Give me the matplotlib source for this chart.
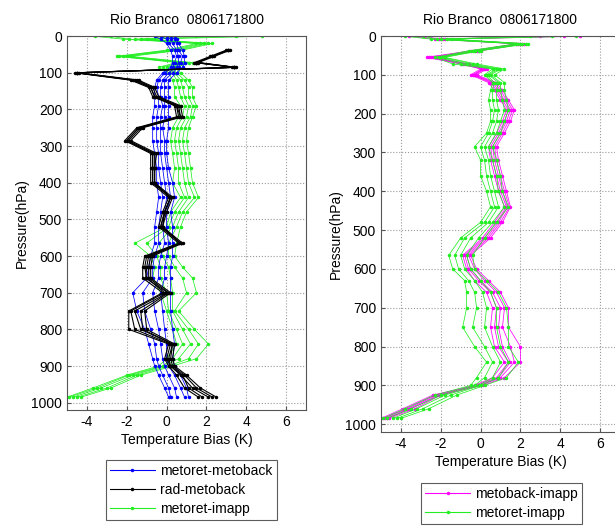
import numpy as np
import matplotlib
matplotlib.use("Agg")
import matplotlib.pyplot as plt
from matplotlib.lines import Line2D

plt.rcParams['font.family'] = ['Liberation Sans', 'DejaVu Sans']
plt.rcParams['font.size'] = 10
plt.rcParams['axes.unicode_minus'] = False

TITLE = "Rio Branco  0806171800"

# pressure levels (hPa) shared by all profiles
pressure = [0.5, 8, 20, 38, 55, 72, 85, 100, 120, 140, 165, 190, 220, 250, 285, 320,
            360, 400, 440, 480, 520, 565, 600, 630, 660, 700, 750, 800, 840, 880,
            900, 925, 960, 985]
nan = float('nan')

# left panel: metoret-metoback (blue), members
blue_1 = [-0.6, -0.3, 0.0, 0.2, 0.3, 0.3, 0.2, -0.2, -0.5, -0.6, -0.6, -0.6, -0.7, -0.7,
          -0.7, -0.6, -0.5, -0.5, -0.4, -0.5, -0.6, -0.6, -0.8, -0.9, -1.0, -1.7, -1.5,
          -1.1, -0.9, -0.7, -0.6, -0.4, -0.1, 0.1]
blue_2 = [-0.3, 0.0, 0.1, 0.4, 0.5, 0.4, 0.3, -0.1, -0.4, -0.5, -0.4, -0.4, -0.5, -0.5,
          -0.5, -0.4, -0.4, -0.3, -0.2, -0.3, -0.4, -0.4, -0.6, -0.7, -0.7, -1.2, -1.1,
          -0.8, -0.6, -0.5, -0.4, -0.2, 0.1, 0.2]
blue_3 = [0.0, 0.2, 0.3, 0.5, 0.6, 0.6, 0.5, 0.1, -0.2, -0.3, -0.3, -0.2, -0.3, -0.3,
          -0.3, -0.3, -0.2, -0.1, 0.0, -0.1, -0.2, -0.1, -0.3, -0.4, -0.4, -0.7, -0.6,
          -0.4, -0.3, -0.2, -0.1, 0.1, 0.4, 0.5]
blue_4 = [0.2, 0.4, 0.5, 0.6, 0.8, 0.7, 0.6, 0.3, -0.1, -0.1, -0.1, -0.1, -0.1, -0.2,
          -0.1, -0.1, 0.0, 0.1, 0.2, 0.0, 0.0, 0.1, 0.0, -0.1, -0.1, -0.3, -0.2, -0.1,
          0.0, 0.0, 0.1, 0.4, 0.7, 0.9]
blue_5 = [0.4, 0.5, 0.6, 0.8, 0.9, 0.9, 0.8, 0.5, 0.1, 0.1, 0.1, 0.1, 0.1, 0.1, 0.0,
          0.0, 0.1, 0.3, 0.4, 0.2, 0.3, 0.3, 0.3, 0.2, 0.2, 0.2, 0.2, 0.3, 0.4, 0.3,
          0.4, 0.7, 1.0, 1.1]

# left panel: rad-metoback (black), no data above ~40 hPa
black_1 = [nan, nan, nan, 3.0, 2.2, 1.4, 3.3, -4.6, -1.8, -0.9, -0.7, 0.4, 0.5, -1.5,
           -2.1, -0.8, -0.8, -0.8, 0.1, -0.2, -0.4, 0.6, -1.1, -1.2, -1.2, -0.2, -1.9,
           -1.9, 0.1, -0.1, 0.1, 0.5, 0.9, 1.6]
black_2 = [nan, nan, nan, 3.1, 2.3, 1.5, 3.4, -4.5, -1.7, -0.8, -0.6, 0.5, 0.7, -1.4,
           -2.0, -0.7, -0.7, -0.7, 0.2, -0.1, -0.3, 0.7, -1.0, -1.1, -1.0, -0.1, -1.8,
           -1.6, 0.2, 0.0, 0.2, 0.8, 1.1, 1.8]
black_3 = [nan, nan, nan, 3.1, 2.3, 1.5, 3.4, -4.5, -1.6, -0.8, -0.6, 0.5, 0.6, -1.4,
           -2.0, -0.7, -0.7, -0.7, 0.2, -0.1, -0.3, 0.7, -0.9, -1.0, -1.05, 0.05, -1.6,
           -1.3, 0.3, 0.1, 0.2, 0.7, 1.3, 2.1]
black_4 = [nan, nan, nan, 3.1, 2.3, 1.5, 3.4, -4.5, -1.5, -0.7, -0.5, 0.6, 0.7, -1.3,
           -1.9, -0.6, -0.6, -0.6, 0.2, -0.1, -0.2, 0.7, -0.8, -0.9, -0.9, 0.1, -1.3,
           -1.2, 0.3, 0.2, 0.3, 0.9, 1.5, 2.3]
black_5 = [nan, nan, nan, 3.2, 2.4, 1.6, 3.5, -4.4, -1.4, -0.6, -0.4, 0.7, 0.8, -1.2,
           -1.8, -0.5, -0.6, -0.6, 0.3, 0.0, -0.2, 0.8, -0.7, -0.8, -0.8, 0.2, -1.1,
           -1.0, 0.4, 0.3, 0.4, 1.0, 1.7, 2.5]

# left panel: metoret-imapp (green)
green_l_1 = [-3.6, -2.2, 1.5, 0.0, -2.5, 0.5, -0.4, 0.1, 0.3, 0.4, 0.4, 0.7, 0.6, 0.3,
             0.2, 0.3, 0.4, 0.3, 0.7, 0.2, 0.0, -1.6, -0.8, -0.6, -0.7, -0.3, 0.0, 0.3,
             0.5, 0.0, -0.4, -2.0, -3.7, -5.0]
green_l_2 = [-2.8, -1.9, 1.7, 0.2, -2.4, 0.7, -0.2, 0.3, 0.5, 0.6, 0.7, 0.9, 0.8, 0.5,
             0.4, 0.5, 0.6, 0.6, 0.9, 0.4, 0.1, -1.0, -0.5, -0.3, -0.3, 0.0, 0.1, 0.5,
             0.8, 0.3, -0.2, -1.9, -3.5, -4.9]
green_l_3 = [1.5, -1.6, 1.9, 0.4, -2.2, 0.9, 0.0, 0.4, 0.7, 0.8, 0.9, 1.1, 1.0, 0.7,
             0.6, 0.7, 0.8, 0.9, 1.1, 0.6, 0.3, -0.4, -0.2, 0.1, 0.2, 0.3, 0.3, 0.8,
             1.2, 0.6, -0.1, -1.7, -3.3, -4.7]
green_l_4 = [3.5, -1.3, 2.1, 0.6, -2.0, 1.1, 0.2, 0.5, 0.9, 1.1, 1.1, 1.3, 1.2, 0.9,
             0.8, 0.9, 1.0, 1.1, 1.4, 0.8, 0.5, 0.1, 0.1, 0.4, 0.8, 1.0, 0.4, 1.1,
             1.6, 1.1, 0.1, -1.5, -3.0, -4.5]
green_l_5 = [4.8, -1.0, 2.3, 0.8, -1.8, 1.3, 0.4, 0.7, 1.1, 1.3, 1.3, 1.5, 1.3, 1.1,
             1.0, 1.1, 1.2, 1.3, 1.6, 1.0, 0.7, 0.5, 0.4, 0.8, 1.3, 1.5, 0.6, 1.4,
             2.1, 1.5, 0.3, -1.3, -2.8, -4.3]

# right panel: metoback-imapp (magenta)
mag_1 = [-3.6, -2.3, 1.8, -0.5, -2.7, -1.0, 0.0, -0.5, 0.4, 0.7, 1.0, 1.3, 1.1, 0.8,
         0.4, 0.5, 0.7, 0.9, 1.2, 0.7, 0.1, -0.9, -0.7, -0.3, 0.3, 0.6, 0.5, 0.7, 1.2,
         0.6, -0.3, -2.4, -3.9, -5.0]
mag_2 = [-2.8, -2.1, 1.9, -0.3, -2.6, -0.9, 0.1, -0.4, 0.5, 0.8, 1.1, 1.4, 1.2, 0.9,
         0.5, 0.6, 0.8, 1.0, 1.3, 0.8, 0.2, -0.8, -0.6, -0.1, 0.5, 0.8, 0.7, 0.9, 1.4,
         0.8, -0.2, -2.3, -3.7, -4.9]
mag_3 = [3.0, -2.0, 2.0, -0.2, -2.5, -0.8, 0.15, -0.35, 0.6, 0.9, 1.2, 1.5, 1.3, 1.0,
         0.6, 0.7, 0.9, 1.1, 1.35, 0.9, 0.3, -0.7, -0.5, 0.0, 0.6, 1.0, 0.9, 1.1, 1.5,
         0.9, -0.1, -2.2, -3.6, -4.8]
mag_4 = [4.2, -1.9, 2.1, -0.1, -2.4, -0.7, 0.2, -0.3, 0.7, 1.0, 1.3, 1.6, 1.4, 1.1,
         0.7, 0.8, 1.0, 1.2, 1.45, 1.0, 0.4, -0.6, -0.3, 0.2, 0.8, 1.2, 1.1, 1.5, 1.7,
         1.0, 0.0, -2.1, -3.5, -4.7]
mag_5 = [5.0, -1.8, 2.2, 0.0, -2.3, -0.6, 0.3, -0.2, 0.8, 1.1, 1.4, 1.7, 1.5, 1.2,
         0.8, 0.9, 1.1, 1.3, 1.5, 1.1, 0.5, -0.5, -0.2, 0.4, 1.0, 1.4, 1.4, 2.0, 2.0,
         1.2, 0.1, -2.0, -3.3, -4.6]

# right panel: metoret-imapp (green)
green_r_1 = [-3.8, -2.5, 1.8, -0.6, -2.3, -1.4, 0.6, 0.2, 0.6, 0.5, 0.4, 0.5, 0.5, 0.3,
             -0.3, 0.0, 0.0, 0.3, 0.5, 0.0, -1.0, -1.6, -1.4, -0.8, -0.7, -0.7, -0.9,
             -0.3, 0.3, -0.2, -0.5, -2.3, -3.8, -4.9]
green_r_2 = [-2.9, -2.2, 2.0, -0.4, -2.1, -1.0, 0.8, 0.3, 0.7, 0.6, 0.6, 0.7, 0.6, 0.4,
             0.0, 0.2, 0.3, 0.5, 0.7, 0.2, -0.8, -1.3, -1.1, -0.6, -0.3, -0.2, -0.4,
             0.2, 0.6, 0.2, -0.3, -2.0, -3.5, -4.7]
green_r_3 = [2.5, -2.0, 2.1, -0.3, -2.0, -0.7, 0.9, 0.4, 0.9, 0.8, 0.8, 0.9, 0.8, 0.6,
             0.2, 0.4, 0.5, 0.7, 0.9, 0.4, -0.5, -1.0, -0.8, -0.3, 0.1, 0.3, 0.2, 0.6,
             1.0, 0.6, -0.1, -1.8, -3.2, -4.4]
green_r_4 = [3.6, -1.7, 2.3, -0.1, -1.9, -0.4, 1.0, 0.5, 1.0, 1.0, 1.1, 1.2, 1.0, 0.8,
             0.4, 0.6, 0.8, 0.9, 1.2, 0.6, -0.1, -0.7, -0.5, 0.0, 0.5, 0.8, 0.8, 1.0,
             1.4, 0.9, 0.0, -1.5, -2.9, -4.2]
green_r_5 = [4.8, -1.5, 2.4, 0.0, -1.8, -0.2, 1.2, 0.7, 1.2, 1.2, 1.3, 1.4, 1.2, 1.0,
             0.6, 0.8, 1.0, 1.1, 1.4, 0.8, 0.2, -0.4, -0.3, 0.3, 0.9, 1.3, 1.4, 1.4,
             1.9, 1.3, 0.2, -1.2, -2.6, -4.0]

BLUE = '#0000ff'
BLACK = '#000000'
GREEN = '#22ee22'
MAGENTA = '#ff00ff'


def draw_bundle(ax, members, color, lw=0.55):
    for m in members:
        ax.plot(m, pressure, color=color, lw=lw, marker='.', ms=3)


def format_axis(ax):
    ax.set_xlim(-5, 7)
    ax.set_ylim(1020, 0)
    ax.set_xticks([-4, -2, 0, 2, 4, 6])
    ax.set_yticks(np.arange(0, 1001, 100))
    ax.grid(True, linestyle=':', color='#9a9a9a', lw=0.8)
    ax.tick_params(direction='in', length=3, color='#555555', labelsize=10)
    for s in ax.spines.values():
        s.set_color('#555555')
    ax.set_title(TITLE, fontsize=10, pad=9)
    ax.set_xlabel("Temperature Bias (K)", fontsize=10, labelpad=3)
    ax.set_ylabel("Pressure(hPa)", fontsize=10, labelpad=2)


def legend_handle(color):
    return Line2D([], [], color=color, lw=0.8, marker='.', ms=3)


def main():
    fig = plt.figure(figsize=(6.15, 5.28), dpi=100)

    # left panel
    ax1 = fig.add_axes([0.109, 0.2235, 0.3886, 0.708])
    draw_bundle(ax1, [green_l_1, green_l_2, green_l_3, green_l_4, green_l_5], GREEN)
    draw_bundle(ax1, [blue_1, blue_2, blue_3, blue_4, blue_5], BLUE)
    draw_bundle(ax1, [black_1, black_2, black_3, black_4, black_5], BLACK, lw=0.8)
    format_axis(ax1)
    leg1 = ax1.legend([legend_handle(BLUE), legend_handle(BLACK), legend_handle(GREEN)],
                      ["metoret-metoback", "rad-metoback", "metoret-imapp"],
                      loc='upper center', bbox_to_anchor=(0.52, -0.115), fontsize=10,
                      frameon=True, fancybox=False, handlelength=3.2, borderpad=0.3,
                      labelspacing=0.35, handletextpad=0.4)
    leg1.get_frame().set_edgecolor('#333333')
    leg1.get_frame().set_linewidth(0.8)

    # right panel
    ax2 = fig.add_axes([0.6195, 0.1818, 0.3886, 0.75])
    draw_bundle(ax2, [mag_1, mag_2, mag_3, mag_4, mag_5], MAGENTA)
    draw_bundle(ax2, [green_r_1, green_r_2, green_r_3, green_r_4, green_r_5], GREEN)
    format_axis(ax2)
    leg2 = ax2.legend([legend_handle(MAGENTA), legend_handle(GREEN)],
                      ["metoback-imapp", "metoret-imapp"],
                      loc='upper center', bbox_to_anchor=(0.505, -0.11), fontsize=10,
                      frameon=True, fancybox=False, handlelength=3.2, borderpad=0.3,
                      labelspacing=0.35, handletextpad=0.4)
    leg2.get_frame().set_edgecolor('#333333')
    leg2.get_frame().set_linewidth(0.8)

    fig.savefig("out.png", dpi=100)


if __name__ == "__main__":
    main()
